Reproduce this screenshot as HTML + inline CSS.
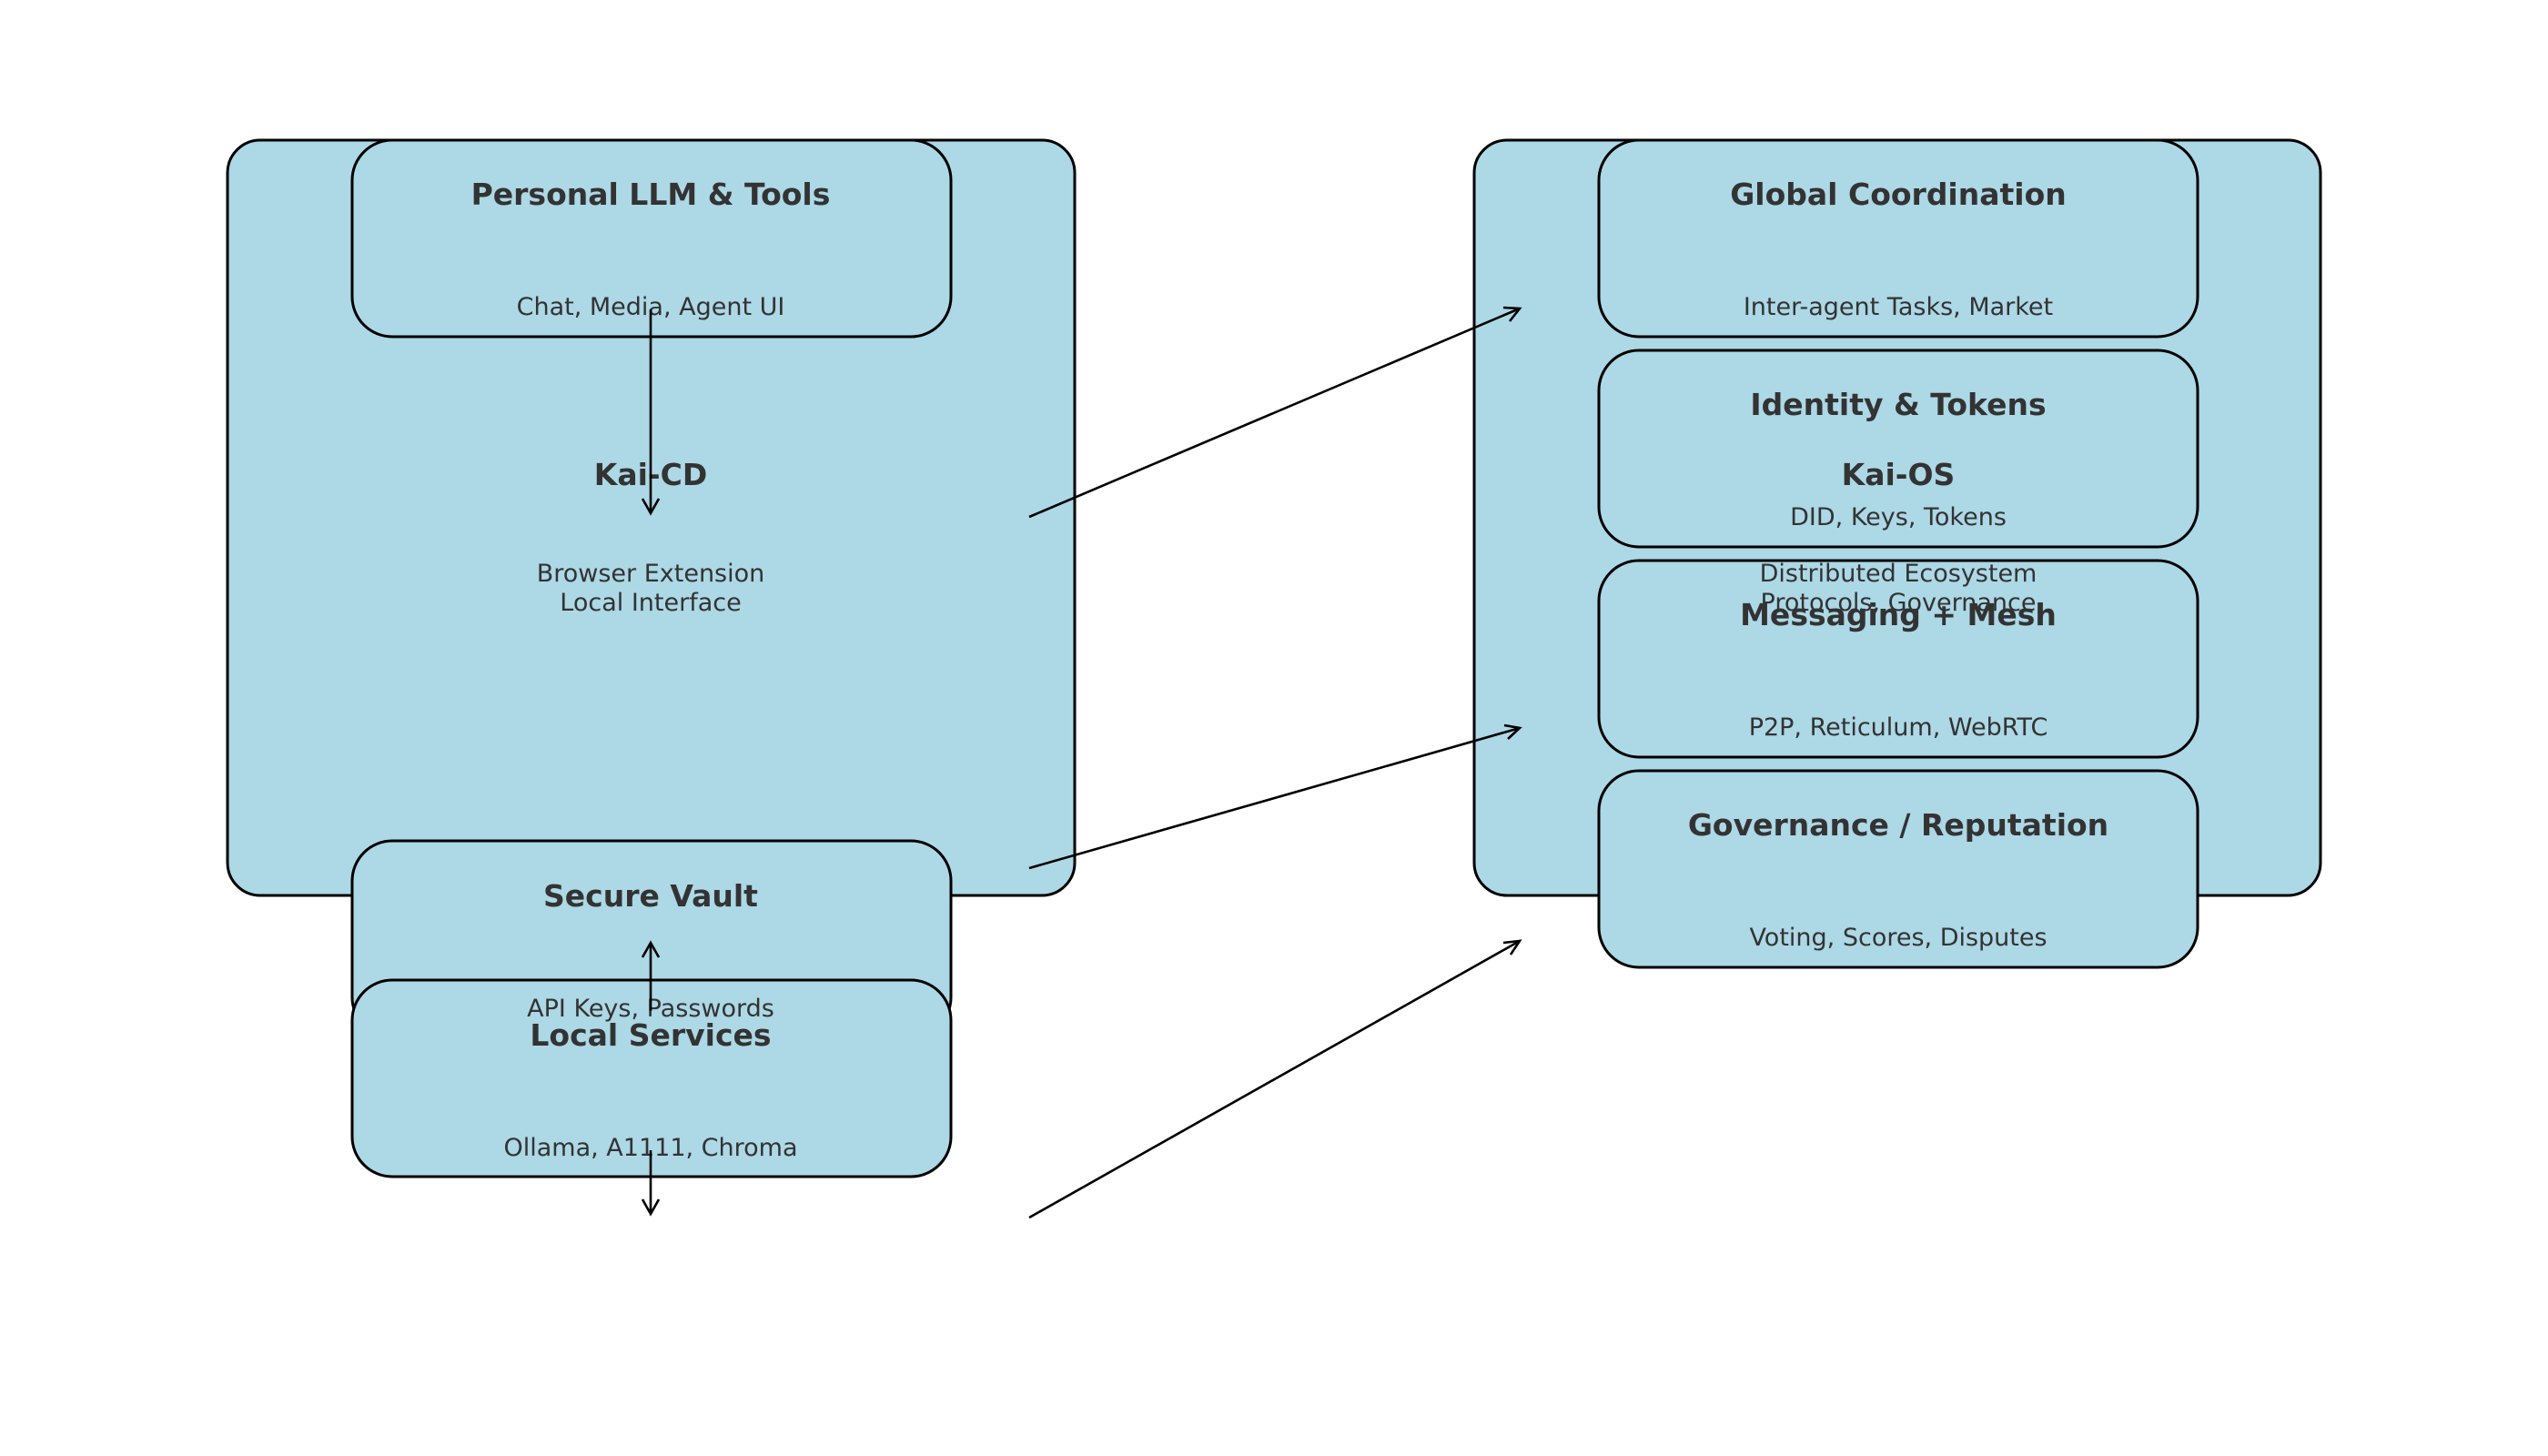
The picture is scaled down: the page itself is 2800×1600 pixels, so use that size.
<!DOCTYPE html>
<html><head><meta charset="utf-8"><style>
html,body{margin:0;padding:0;background:#fff;}
svg{display:block;}
text{font-family:"DejaVu Sans","Liberation Sans",sans-serif;fill:#333;text-anchor:middle;}
.t{font-weight:bold;font-size:33px;}
.s{font-size:27px;}
.b{fill:#add8e6;stroke:#000;stroke-width:3;}
.a{stroke:#000;stroke-width:2.6;fill:none;}
</style></head><body>
<svg width="2800" height="1600" viewBox="0 0 2800 1600" xmlns="http://www.w3.org/2000/svg">
<rect width="2800" height="1600" fill="#fff"/>
<rect class="b" x="250" y="154" width="931" height="830" rx="36"/>
<rect class="b" x="1620" y="154" width="930" height="830" rx="36"/>
<rect class="b" x="387" y="154" width="658" height="216" rx="44"/>
<rect class="b" x="387" y="924" width="658" height="216" rx="44"/>
<rect class="b" x="387" y="1077" width="658" height="216" rx="44"/>
<rect class="b" x="1757" y="154" width="658" height="216" rx="44"/>
<rect class="b" x="1757" y="385" width="658" height="216" rx="44"/>
<rect class="b" x="1757" y="616" width="658" height="216" rx="44"/>
<rect class="b" x="1757" y="847" width="658" height="216" rx="44"/>

<text class="t" x="715" y="225">Personal LLM &amp; Tools</text>
<text class="s" x="715" y="346">Chat, Media, Agent UI</text>
<text class="t" x="715" y="533">Kai-CD</text>
<text class="s" x="715" y="639">Browser Extension</text>
<text class="s" x="715" y="671">Local Interface</text>
<text class="t" x="715" y="996">Secure Vault</text>
<text class="s" x="715" y="1117">API Keys, Passwords</text>
<text class="t" x="715" y="1149">Local Services</text>
<text class="s" x="715" y="1270">Ollama, A1111, Chroma</text>

<text class="t" x="2086" y="225">Global Coordination</text>
<text class="s" x="2086" y="346">Inter-agent Tasks, Market</text>
<text class="t" x="2086" y="456">Identity &amp; Tokens</text>
<text class="s" x="2086" y="577">DID, Keys, Tokens</text>
<text class="t" x="2086" y="533">Kai-OS</text>
<text class="s" x="2086" y="639">Distributed Ecosystem</text>
<text class="s" x="2086" y="671">Protocols, Governance</text>
<text class="t" x="2086" y="687">Messaging + Mesh</text>
<text class="s" x="2086" y="808">P2P, Reticulum, WebRTC</text>
<text class="t" x="2086" y="918">Governance / Reputation</text>
<text class="s" x="2086" y="1039">Voting, Scores, Disputes</text>

<g class="a">
<line x1="715" y1="340" x2="715" y2="564"/><polyline points="706,548 715,564 724,548"/>
<line x1="715" y1="1111" x2="715" y2="1036"/><polyline points="706,1052 715,1036 724,1052"/>
<line x1="715" y1="1264" x2="715" y2="1334"/><polyline points="706,1318 715,1334 724,1318"/>
<line x1="1131" y1="568" x2="1670" y2="339"/><polyline points="1652,338 1670,339 1659,353"/>
<line x1="1131" y1="954" x2="1670" y2="800"/><polyline points="1653,797 1670,800 1657,812"/>
<line x1="1131" y1="1338" x2="1670" y2="1034"/><polyline points="1652,1036 1670,1034 1660,1049"/>
</g>
</svg>
</body></html>
